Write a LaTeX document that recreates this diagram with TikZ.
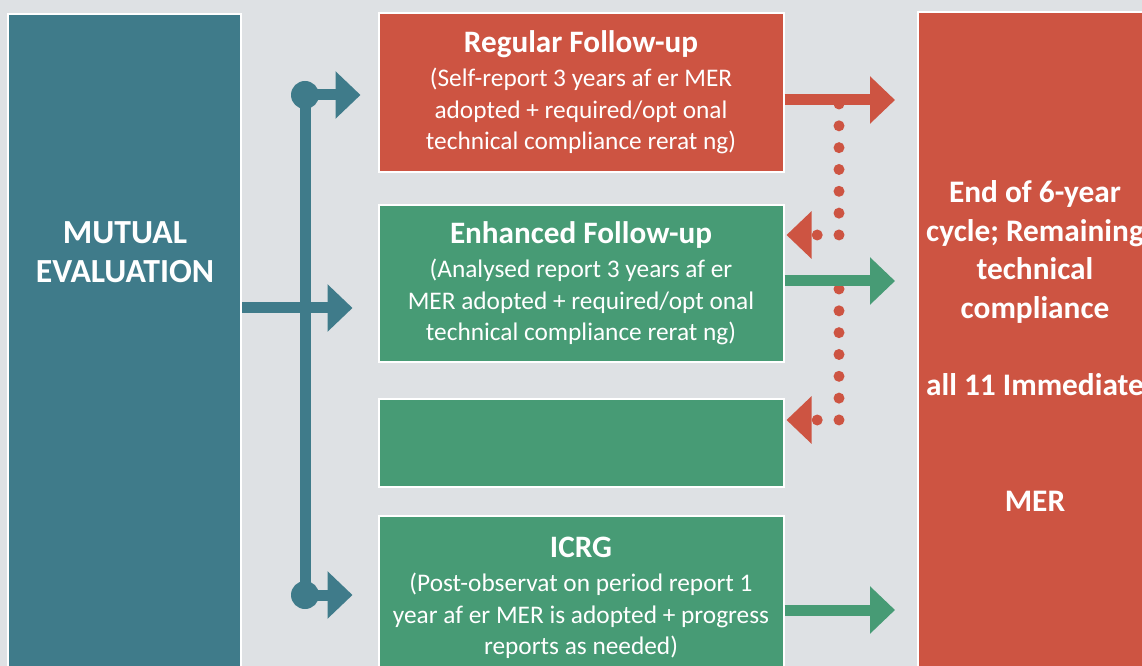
\documentclass[tikz,border=0pt]{standalone}
\usepackage{fontspec}
\setmainfont{Carlito}
\usetikzlibrary{arrows.meta}
\definecolor{bggray}{HTML}{DEE1E4}
\definecolor{meteal}{HTML}{3F7B8A}
\definecolor{fured}{HTML}{CD5442}
\definecolor{fugreen}{HTML}{479B75}
\newcommand{\fubody}{\fontsize{19}{23.6}\selectfont}
\newcommand{\fuhead}[1]{{\fontsize{23.4}{23.6}\selectfont\bfseries #1}\\[1.9pt]}
\tikzset{
  fubox/.style={draw=white,line width=1.5pt,inner sep=0pt,text=white,align=center,
    minimum width=303.75pt,font=\fubody},
  bigtext/.style={text=white,align=center,font=\fontsize{23.5}{28.9}\selectfont\bfseries},
  tealline/.style={meteal,line width=8.25pt},
  fatarrow/.style={line width=8.25pt,-{Triangle[length=18.75pt,width=34.5pt]}},
  dotarrow/.style={fured,line width=8.25pt,line cap=round,dash pattern=on 0pt off 16.37pt,
    -{Triangle[length=18.75pt,width=34.5pt]}}
}
\begin{document}
\begin{tikzpicture}[x=0.75pt,y=-0.75pt]
\useasboundingbox (0,0) rectangle (1142,666);
\fill[bggray] (0,0) rectangle (1142,666);
% boxes
\node[fubox,fill=meteal,minimum width=174.75pt,minimum height=499.5pt] (me) at (124.5,347) {};
\node[bigtext,font=\fontsize{25.3}{29}\selectfont\bfseries] (metext) at (125,252) {MUTUAL\\EVALUATION};
\node[fubox,fill=fured,minimum height=119.25pt] (reg) at (581,92.5)
  {\fuhead{Regular Follow-up}(Self-report 3 years af er MER\\adopted + required/opt onal\\technical compliance rerat ng)};
\node[fubox,fill=fugreen,minimum height=117.75pt] (enh) at (581,283.5)
  {\fuhead{Enhanced Follow-up}(Analysed report 3 years af er\\MER adopted + required/opt onal\\technical compliance rerat ng)};
\node[fubox,fill=fugreen,minimum height=66pt] (blank) at (581,443) {};
\node[fubox,fill=fugreen,minimum height=123pt] (icrg) at (581,598)
  {\fuhead{ICRG}(Post-observat on period report 1\\year af er MER is adopted + progress\\reports as needed)};
\node[fubox,fill=fured,minimum width=175.5pt,minimum height=501pt,bigtext] (end) at (1035,346)
  {End of 6-year\\cycle; Remaining\\technical\\compliance\\\mbox{}\\all 11 Immediate\\\mbox{}\\\mbox{}\\MER};
% teal branching
\draw[tealline] (305,95) -- (305,595);
\fill[meteal] (305,95) circle (10.5pt) (305,595) circle (10.5pt);
\draw[fatarrow,meteal,shorten >=12.75pt] (305,95) -- (reg.west |- 0,95);
\draw[fatarrow,meteal,shorten >=18.75pt] (me.east |- 0,308) -- (enh.west |- 0,308);
\draw[fatarrow,meteal,shorten >=18.75pt] (305,595) -- (icrg.west |- 0,595);
% dotted returns
\draw[dotarrow,shorten >=1.5pt] (839,104) -- (839,235) -- (enh.east |- 0,235);
\draw[dotarrow,shorten >=1.5pt] (839,289) -- (839,420) -- (blank.east |- 0,420);
% out arrows
\draw[fatarrow,fured,shorten >=16.5pt] (reg.east |- 0,100) -- (end.west |- 0,100);
\draw[fatarrow,fugreen,shorten >=16.5pt] (enh.east |- 0,281) -- (end.west |- 0,281);
\draw[fatarrow,fugreen,shorten >=16.5pt] (icrg.east |- 0,610) -- (end.west |- 0,610);
\end{tikzpicture}
\end{document}
